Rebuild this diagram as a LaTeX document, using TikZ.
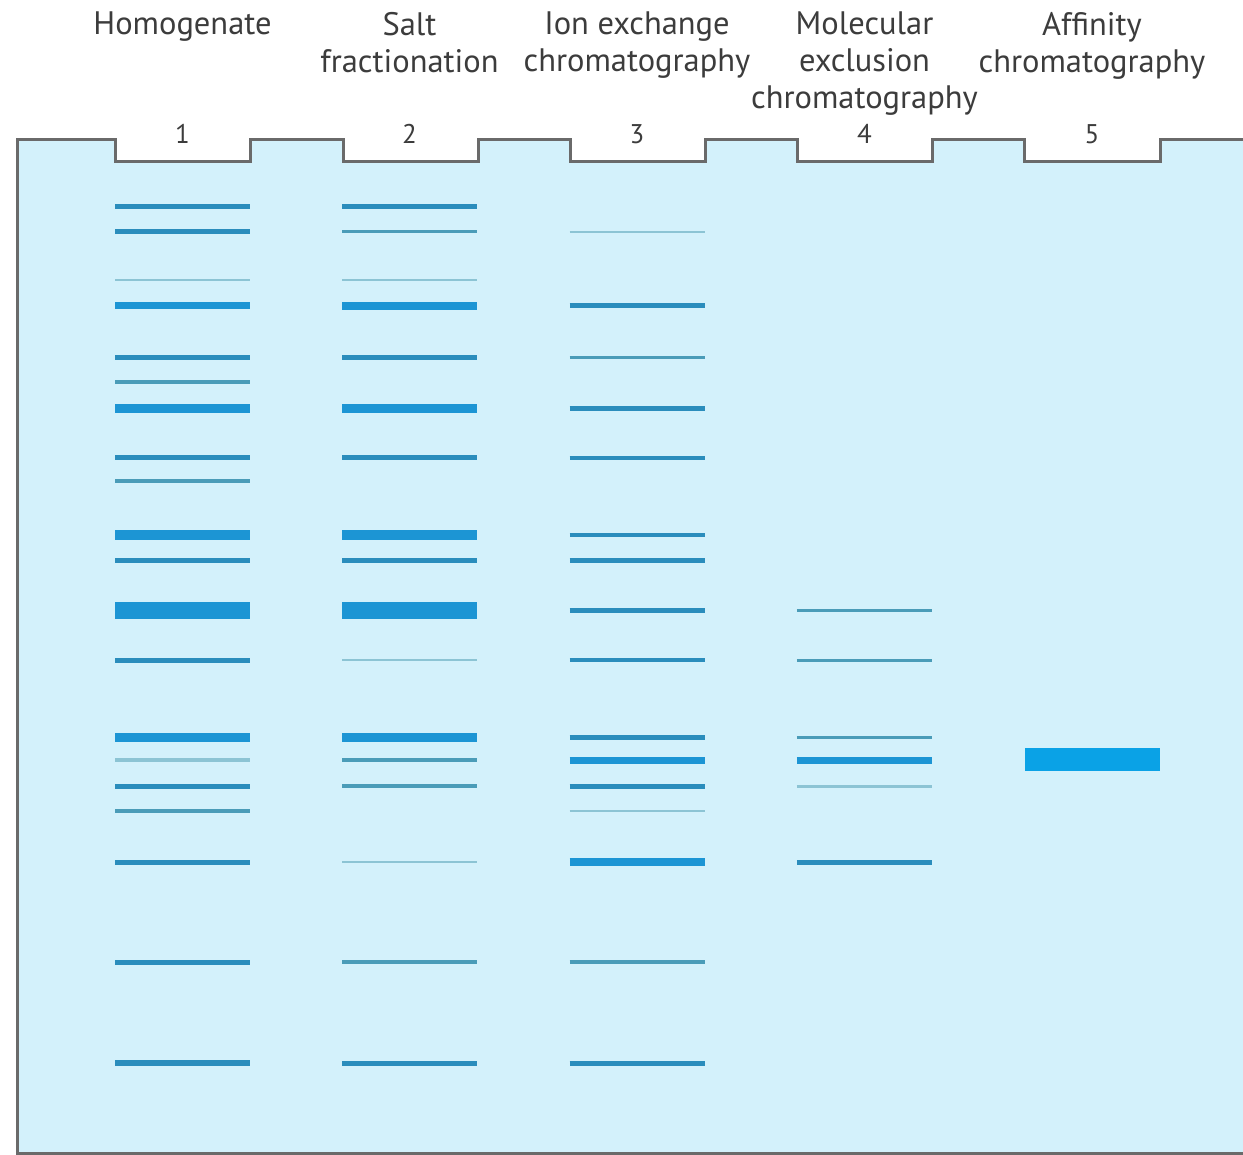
\documentclass[tikz,border=0pt]{standalone}
\usepackage{fontspec}
\setmainfont{PT Sans}
\definecolor{gelbg}{HTML}{D3F1FB}
\definecolor{gelline}{HTML}{6A6A6A}
\definecolor{txt}{HTML}{3C3C3C}
\definecolor{bA}{HTML}{1C95D4}
\definecolor{bB}{HTML}{2A8DBC}
\definecolor{bC}{HTML}{4A9CB8}
\definecolor{bD}{HTML}{8CC4D4}
\definecolor{bE}{HTML}{0AA2E6}
\tikzset{
  lbl/.style={font=\fontsize{32.5}{37}\selectfont, text=txt, align=center, anchor=north, inner sep=0pt},
  num/.style={font=\fontsize{27}{30}\selectfont, text=txt, anchor=base, inner sep=0pt},
  gelborder/.style={draw=gelline, line width=3pt, line join=miter},
}
\newcommand{\gband}[4]{% lane, y, width, colour
  \draw[line width=#3pt, #4] ({115+227.25*(#1-1)},#2) -- ({250+227.25*(#1-1)},#2);}
\begin{document}
\begin{tikzpicture}[x=1pt,y=-1pt]
\useasboundingbox (0,0) rectangle (1243,1155);
\fill[white] (0,0) rectangle (1243,1155);
% gel body
\fill[gelbg] (17,1153) -- (17,140)
  -- (115,140) -- (115,162) -- (250,162) -- (250,140)
  -- (343,140) -- (343,162) -- (478,162) -- (478,140)
  -- (570,140) -- (570,162) -- (705,162) -- (705,140)
  -- (797,140) -- (797,162) -- (932,162) -- (932,140)
  -- (1024,140) -- (1024,162) -- (1160,162) -- (1160,140)
  -- (1243,140) -- (1243,1153) -- cycle;
\draw[gelborder] (1243,140)
  -- (1160,140) -- (1160,162) -- (1024,162) -- (1024,140)
  -- (932,140) -- (932,162) -- (797,162) -- (797,140)
  -- (705,140) -- (705,162) -- (570,162) -- (570,140)
  -- (478,140) -- (478,162) -- (343,162) -- (343,140)
  -- (250,140) -- (250,162) -- (115,162) -- (115,140)
  -- (17,140) -- (17,1153) -- (1243,1153);
% labels
\node[lbl] (l1) at (182.5,12) {Homogenate};
\node[lbl] (l2) at (409.5,12) {Salt\\fractionation};
\node[lbl] (l3) at (637,12) {Ion exchange\\chromatography};
\node[lbl] (l4) at (864.5,12) {Molecular\\exclusion\\chromatography};
\node[lbl] (l5) at (1092,12) {Affinity\\chromatography};
\node[num] (n1) at (182.5,144) {1};
\node[num] (n2) at (409.5,144) {2};
\node[num] (n3) at (637,144) {3};
\node[num] (n4) at (864.5,144) {4};
\node[num] (n5) at (1092,144) {5};
% lane 1
\foreach \y/\w/\c in {207/5/bB,232/5/bB,280/2.5/bD,306/7/bA,358/5/bB,382/3.5/bC,409/9/bA,458/5/bB,481/4/bC,535/10/bA,560/5/bB,610/17/bA,660/5/bB,737/9/bA,760/3.5/bD,786/5/bB,811/4/bC,862/5/bB,962/5/bB,1063/6/bB}
  {\gband{1}{\y}{\w}{\c}}
% lane 2
\foreach \y/\w/\c in {207/5/bB,232/3/bC,280/2.5/bD,306/8/bA,358/5/bB,409/9/bA,458/5/bB,535/10/bA,560/5/bB,610/17/bA,660/2.5/bD,737/9/bA,760/4/bC,786/4/bC,862/2.5/bD,962/4/bC,1063/5/bB}
  {\gband{2}{\y}{\w}{\c}}
% lane 3
\foreach \y/\w/\c in {232/2.5/bD,306/5/bB,358/3/bC,409/5/bB,458/3.5/bB,535/3.5/bB,560/5/bB,610/5/bB,660/4/bB,737/5/bB,760/7/bA,786/5/bB,811/2.5/bD,862/8/bA,962/4/bC,1063/5/bB}
  {\gband{3}{\y}{\w}{\c}}
% lane 4
\foreach \y/\w/\c in {610/3/bC,660/3/bC,737/3/bC,760/7/bA,786/3/bD,862/5/bB}
  {\gband{4}{\y}{\w}{\c}}
% lane 5
\fill[bE] (1025,748) rectangle (1160,771);
\end{tikzpicture}
\end{document}
